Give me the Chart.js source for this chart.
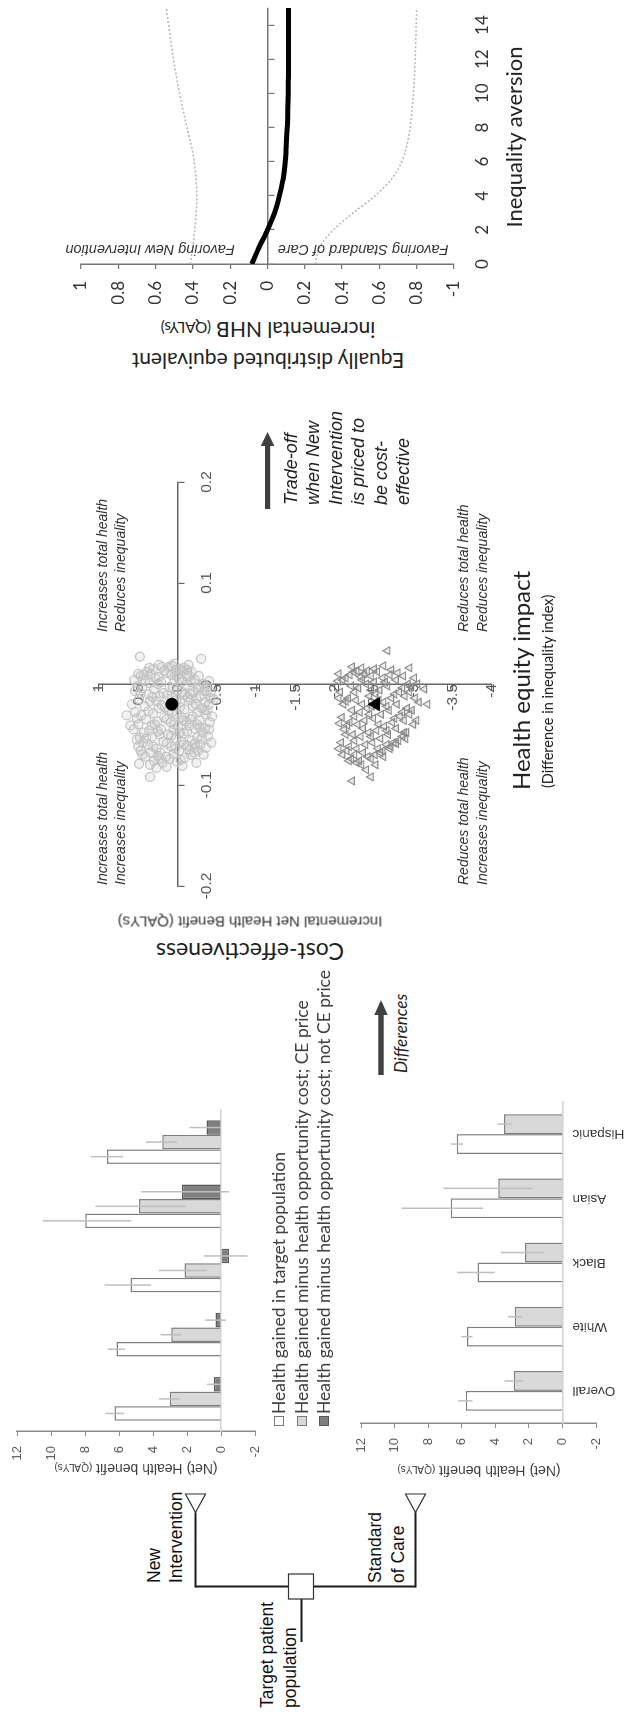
<!DOCTYPE html>
<html><head><meta charset="utf-8">
<script src="https://cdn.jsdelivr.net/npm/chart.js@4.4.1/dist/chart.umd.min.js"></script>
<style>
html,body{margin:0;padding:0;background:#fff;overflow:hidden;width:631px;height:1716px;}
#land{position:absolute;left:0;top:0;width:1716px;height:631px;transform-origin:0 0;transform:translate(0px,1716px) rotate(-90deg);background:#fff;}
#land canvas{position:absolute;}
.t{position:absolute;white-space:nowrap;line-height:1;}
.h{transform:translateY(-50%);}
.c{transform:translate(-50%,-50%);}
.r{transform:translate(-50%,-50%) rotate(-90deg);}
.arial{font-family:"Liberation Sans",Arial,sans-serif;}
.lato{font-family:Lato,sans-serif;}
.it{font-style:italic;}
.sc{font-size:0.72em;}
.sw{position:absolute;width:8px;height:8px;border:1px solid #7a7a7a;}
</style></head>
<body>
<div id="land">
<svg width="1716" height="631" style="position:absolute;left:0;top:0">
  <g stroke="#1a1a1a" stroke-width="2" fill="none">
    <line x1="74" y1="301.5" x2="117" y2="301.5"/>
    <line x1="129.5" y1="195.5" x2="129.5" y2="415.5"/>
    <line x1="128.5" y1="195.5" x2="203.5" y2="195.5"/>
    <line x1="128.5" y1="415.5" x2="203.5" y2="415.5"/>
  </g>
  <rect x="117" y="288.5" width="25" height="25" fill="#fff" stroke="#333" stroke-width="1.2"/>
  <polygon points="203.5,195.5 222,185.5 222,205.5" fill="#fff" stroke="#333" stroke-width="1.2"/>
  <polygon points="203.5,415.5 222,405.5 222,425.5" fill="#fff" stroke="#333" stroke-width="1.2"/>
  <rect x="641" y="378.3" width="62" height="5.4" fill="#404040"/>
  <polygon points="716,381 701,374.3 701,387.7" fill="#404040"/>
  <rect x="1207" y="265" width="64" height="5.2" fill="#404040"/>
  <polygon points="1284,267.6 1270,260.8 1270,274.4" fill="#404040"/>
</svg>
<canvas id="c1"></canvas>
<canvas id="c2"></canvas>
<canvas id="c3"></canvas>
<canvas id="c4"></canvas>

<div class="t h arial" style="left:8px;top:268px;font-size:17.5px;color:#111">Target patient</div>
<div class="t h arial" style="left:8px;top:291px;font-size:17.5px;color:#111">population</div>
<div class="t h arial" style="left:133px;top:155px;font-size:17.5px;color:#111">New</div>
<div class="t h arial" style="left:133px;top:177px;font-size:17.5px;color:#111">Intervention</div>
<div class="t h arial" style="left:133px;top:376px;font-size:17.5px;color:#111">Standard</div>
<div class="t h arial" style="left:133px;top:399px;font-size:17.5px;color:#111">of Care</div>

<div class="t r arial" style="left:247px;top:136px;font-size:14px;color:#404040">(Net) Health benefit <span class="sc">(QALYs)</span></div>
<div class="t r arial" style="left:244.5px;top:479px;font-size:14px;color:#404040">(Net) Health benefit <span class="sc">(QALYs)</span></div>

<div class="sw" style="left:289.5px;top:274px;background:#fff"></div>
<div class="sw" style="left:289.5px;top:297px;background:#d9d9d9"></div>
<div class="sw" style="left:289.5px;top:319px;background:#7f7f7f;border-color:#595959"></div>
<div class="t h lato" style="left:302px;top:279px;font-size:17.5px;color:#404040">Health gained in target population</div>
<div class="t h lato" style="left:302px;top:301.7px;font-size:17.5px;color:#404040">Health gained minus health opportunity cost; CE price</div>
<div class="t h lato" style="left:302px;top:323.5px;font-size:17.5px;color:#404040">Health gained minus health opportunity cost; not CE price</div>

<div class="t h lato it" style="left:643px;top:400px;font-size:17px;color:#222">Differences</div>

<div class="t r lato" style="left:764.5px;top:250px;font-size:23px;color:#222">Cost-effectiveness</div>
<div class="t r arial" style="left:793.5px;top:250px;font-size:15px;color:#333">Incremental Net Health Benefit (QALYs)</div>

<div class="t arial it" style="left:831px;top:93px;font-size:14px;line-height:18px;color:#333">Increases total health<br>Increases inequality</div>
<div class="t arial it" style="left:1084px;top:93px;font-size:14px;line-height:18px;color:#333">Increases total health<br>Reduces inequality</div>
<div class="t arial it" style="left:831px;top:454px;font-size:14px;line-height:19px;color:#333">Reduces total health<br>Increases inequality</div>
<div class="t arial it" style="left:1084px;top:454px;font-size:14px;line-height:19px;color:#333">Reduces total health<br>Reduces inequality</div>

<div class="t h lato" style="left:926px;top:521px;font-size:24px;color:#222">Health equity impact</div>
<div class="t h lato" style="left:928px;top:547.5px;font-size:14.5px;color:#222">(Difference in inequality index)</div>

<div class="t arial it" style="left:1211px;top:280px;font-size:18px;line-height:22.4px;color:#222">Trade-off<br>when New<br>Intervention<br>is priced to<br>be cost-<br>effective</div>

<div class="t r lato" style="left:1354.5px;top:268px;font-size:21px;color:#222">Equally distributed equivalent</div>
<div class="t r lato" style="left:1386px;top:268px;font-size:21px;color:#222">incremental NHB <span class="sc">(QALYs)</span></div>
<div class="t r arial it" style="left:1466px;top:150px;font-size:14.5px;color:#333">Favoring New Intervention</div>
<div class="t r arial it" style="left:1466px;top:363px;font-size:14.5px;color:#333">Favoring Standard of Care</div>
<div class="t c lato" style="left:1579px;top:514px;font-size:22px;color:#222">Inequality aversion</div>
</div>

<script>
// ---------------- DATA ----------------
const groups = ["Overall", "White", "Black", "Asian", "Hispanic"];

// New Intervention (top bar chart)
const niGained     = [6.26, 6.14, 5.33, 7.98, 6.71];
const niGainedLo   = [5.70, 5.65, 4.12, 5.28, 5.76];
const niGainedHi   = [6.80, 6.67, 6.85, 10.47, 7.65];
const niCE         = [3.02, 2.92, 2.14, 4.82, 3.45];
const niCELo       = [2.40, 2.34, 0.86, 2.06, 2.59];
const niCEHi       = [3.65, 3.55, 3.65, 7.39, 4.43];
const niNotCE      = [0.43, 0.32, -0.47, 2.29, 0.86];
const niNotCELo    = [0.03, -0.29, -1.56, -0.47, 0.00];
const niNotCEHi    = [0.82, 0.92, 1.02, 4.69, 1.85];

// Standard of Care (bottom bar chart)
const socGained    = [5.76, 5.68, 5.06, 6.65, 6.29];
const socGainedLo  = [5.36, 5.36, 4.03, 4.73, 5.92];
const socGainedHi  = [6.21, 6.01, 6.27, 9.58, 6.65];
const socCE        = [2.90, 2.84, 2.23, 3.83, 3.48];
const socCELo      = [2.34, 2.40, 1.11, 1.79, 3.00];
const socCEHi      = [3.45, 3.24, 3.67, 7.10, 3.87];

// Equity impact plane: [difference in inequality index, incremental NHB]
const meanCEPrice    = [[-0.020, 0.073]];
const meanNotCEPrice = [[-0.020, -2.52]];
const psaCEPrice = [
  [-0.055,0.52],[-0.040,0.50],[-0.028,0.54],[-0.015,0.49],[-0.002,0.51],[0.008,0.47],[-0.066,0.47],
  [-0.072,0.41],[-0.060,0.38],[-0.048,0.43],[-0.035,0.40],[-0.022,0.42],[-0.010,0.37],[0.003,0.41],[0.012,0.39],
  [-0.076,0.30],[-0.064,0.27],[-0.052,0.32],[-0.040,0.29],[-0.029,0.31],[-0.017,0.27],[-0.005,0.30],[0.006,0.28],[0.015,0.31],
  [-0.078,0.19],[-0.068,0.22],[-0.057,0.18],[-0.045,0.21],[-0.033,0.17],[-0.021,0.20],[-0.009,0.18],[0.002,0.21],[0.013,0.17],
  [-0.074,0.10],[-0.062,0.08],[-0.050,0.12],[-0.038,0.09],[-0.026,0.11],[-0.014,0.07],[-0.003,0.10],[0.009,0.08],[0.017,0.11],
  [-0.077,0.01],[-0.066,-0.02],[-0.054,0.02],[-0.042,-0.01],[-0.030,0.01],[-0.018,-0.03],[-0.006,0.00],[0.005,-0.02],[0.014,0.02],
  [-0.073,-0.09],[-0.061,-0.12],[-0.049,-0.08],[-0.037,-0.11],[-0.025,-0.09],[-0.013,-0.13],[-0.001,-0.10],[0.010,-0.12],[0.016,-0.08],
  [-0.068,-0.21],[-0.056,-0.18],[-0.044,-0.22],[-0.032,-0.19],[-0.020,-0.23],[-0.008,-0.20],[0.004,-0.22],[0.012,-0.18],
  [-0.060,-0.29],[-0.048,-0.32],[-0.036,-0.28],[-0.024,-0.31],[-0.012,-0.29],[0.000,-0.33],[-0.070,-0.33],
  [-0.052,-0.39],[-0.038,-0.41],[-0.026,-0.38],[-0.014,-0.42],[-0.003,-0.37],
  [-0.070,0.45],[-0.058,0.44],[-0.046,0.36],[-0.031,0.46],[-0.017,0.35],[-0.004,0.45],[0.010,0.34],
  [-0.071,0.25],[-0.059,0.14],[-0.047,0.25],[-0.035,0.14],[-0.024,0.24],[-0.011,0.13],[0.000,0.25],[0.011,0.14],
  [-0.069,0.05],[-0.057,-0.05],[-0.045,0.05],[-0.033,-0.05],[-0.020,0.04],[-0.008,-0.06],[0.004,0.04],[0.013,-0.05],
  [-0.065,-0.15],[-0.053,-0.25],[-0.041,-0.15],[-0.028,-0.25],[-0.016,-0.16],[-0.004,-0.26],[0.008,-0.15],
  [-0.063,-0.36],[-0.044,-0.35],[-0.030,-0.36],[-0.018,-0.35],[-0.007,-0.34],
  [-0.080,0.35],[-0.082,0.14],[-0.081,-0.06],[-0.078,-0.24],[0.019,0.24],[0.020,0.04],[0.019,-0.14],[0.010,0.50],[-0.045,0.56],[-0.020,0.58],
  [0.027,0.48],[0.025,-0.30],[-0.031,0.65],[-0.041,0.60],[-0.079,0.49],[-0.083,0.27],[-0.092,0.35],[-0.015,-0.46],
  [-0.043,-0.28],[-0.063,-0.22],[-0.053,0.48],[-0.007,-0.37],[0.009,0.43],[-0.007,0.54],
  [-0.062,0.50],[-0.034,0.52],[-0.009,0.47],[0.004,0.55],
  [-0.068,0.34],[-0.054,0.40],[-0.041,0.33],[-0.027,0.37],[-0.013,0.32],[0.001,0.36],[0.016,0.36],
  [-0.074,0.23],[-0.062,0.31],[-0.050,0.23],[-0.037,0.26],[-0.023,0.16],[-0.012,0.23],[0.007,0.24],[0.017,0.20],
  [-0.072,0.15],[-0.064,0.03],[-0.051,0.08],[-0.040,0.04],[-0.028,0.07],[-0.016,0.02],[-0.004,0.06],[0.008,0.01],[0.018,0.07],
  [-0.075,-0.04],[-0.060,-0.08],[-0.048,-0.03],[-0.036,-0.07],[-0.023,-0.03],[-0.011,-0.09],[0.002,-0.05],[0.015,-0.03],
  [-0.070,-0.17],[-0.059,-0.22],[-0.047,-0.12],[-0.035,-0.16],[-0.022,-0.19],[-0.010,-0.16],[0.002,-0.17],[0.014,-0.12],
  [-0.066,-0.26],[-0.054,-0.31],[-0.040,-0.25],[-0.026,-0.34],[-0.014,-0.24],[-0.002,-0.29],[0.008,-0.27],
  [-0.058,-0.43],[-0.045,-0.40],[-0.032,-0.44],[-0.020,-0.40],[-0.008,-0.42],[0.003,-0.40]
];
const psaNotCEPrice = [
  [-0.070,-2.10],[-0.058,-2.08],[-0.045,-2.12],[-0.033,-2.09],[-0.020,-2.11],[-0.008,-2.07],[0.004,-2.10],[0.010,-2.05],
  [-0.074,-2.21],[-0.062,-2.18],[-0.050,-2.23],[-0.038,-2.19],[-0.026,-2.22],[-0.014,-2.17],[-0.002,-2.21],[0.009,-2.19],
  [-0.076,-2.31],[-0.064,-2.28],[-0.052,-2.33],[-0.040,-2.29],[-0.028,-2.32],[-0.016,-2.27],[-0.004,-2.30],[0.007,-2.33],[0.013,-2.28],
  [-0.072,-2.42],[-0.060,-2.39],[-0.048,-2.43],[-0.036,-2.38],[-0.024,-2.41],[-0.012,-2.44],[0.000,-2.40],[0.010,-2.37],
  [-0.070,-2.51],[-0.058,-2.48],[-0.046,-2.53],[-0.034,-2.49],[-0.022,-2.47],[-0.010,-2.52],[0.002,-2.50],[0.012,-2.54],
  [-0.066,-2.61],[-0.054,-2.58],[-0.042,-2.63],[-0.030,-2.59],[-0.018,-2.62],[-0.006,-2.57],[0.006,-2.61],
  [-0.062,-2.71],[-0.050,-2.68],[-0.038,-2.73],[-0.026,-2.69],[-0.014,-2.72],[-0.002,-2.67],[0.009,-2.70],
  [-0.056,-2.81],[-0.044,-2.78],[-0.032,-2.83],[-0.020,-2.79],[-0.008,-2.82],[0.004,-2.78],[0.011,-2.80],
  [-0.048,-2.91],[-0.036,-2.88],[-0.024,-2.92],[-0.012,-2.89],[0.000,-2.93],[0.008,-2.87],
  [-0.040,-3.00],[-0.026,-2.98],[-0.014,-3.02],[-0.003,-2.97],[0.006,-3.01],
  [-0.066,-2.15],[-0.041,-2.16],[-0.017,-2.14],[0.006,-2.14],
  [-0.068,-2.36],[-0.044,-2.36],[-0.020,-2.35],[0.004,-2.35],
  [-0.064,-2.55],[-0.040,-2.56],[-0.016,-2.56],[0.008,-2.46],
  [-0.058,-2.75],[-0.034,-2.76],[-0.010,-2.76],
  [-0.030,-2.95],[-0.008,-2.95],
  [0.033,-2.67],[-0.096,-2.22],[-0.092,-2.46],[-0.078,-2.28],[-0.085,-2.40],[-0.080,-2.34],[-0.020,-3.18],
  [-0.005,-3.14],[0.016,-2.95],[0.018,-2.62],[0.017,-2.22],[0.013,-2.41],[0.003,-2.04],[-0.050,-2.14],
  [-0.048,-2.88],[-0.059,-2.78],[-0.068,-2.58],
  [-0.064,-2.05],[-0.039,-2.06],[-0.014,-2.05],
  [-0.070,-2.25],[-0.056,-2.25],[-0.032,-2.25],[-0.008,-2.25],[0.012,-2.24],
  [-0.074,-2.46],[-0.052,-2.46],[-0.030,-2.44],[-0.006,-2.46],
  [-0.060,-2.66],[-0.046,-2.66],[-0.022,-2.66],[0.002,-2.64],
  [-0.052,-2.86],[-0.028,-2.86],[-0.004,-2.86],
  [-0.036,-3.04],[-0.018,-3.07],[0.000,-3.05],
  [-0.076,-2.18],[-0.080,-2.52],[-0.072,-2.62],[0.015,-2.50],[0.016,-2.34],[0.014,-2.72],[-0.064,-2.70],[-0.054,-2.90]
];

// Equally distributed equivalent incremental NHB by inequality aversion
const aversion = [0, 1, 2, 3, 4, 5, 6, 7, 8, 9, 10, 11, 12, 13, 14, 15];
const edeMean  = [0.084, 0.044, 0.000, -0.038, -0.064, -0.084, -0.095, -0.101, -0.106, -0.109, -0.111, -0.112, -0.113, -0.113, -0.113, -0.113];
const edeUpper = [0.414, 0.400, 0.390, 0.382, 0.379, 0.383, 0.393, 0.410, 0.432, 0.452, 0.472, 0.489, 0.504, 0.518, 0.530, 0.543];
const edeLower = [-0.256, -0.280, -0.354, -0.460, -0.578, -0.667, -0.720, -0.748, -0.765, -0.775, -0.783, -0.788, -0.792, -0.795, -0.797, -0.800];

// ---------------- RENDERING ----------------
Chart.defaults.font.family = '"Liberation Sans", Arial, sans-serif';
Chart.defaults.color = '#404040';
Chart.defaults.animation = false;
Chart.defaults.plugins.legend.display = false;
Chart.defaults.plugins.tooltip.enabled = false;

function placeCanvas(id, area, pad, yW, xH) {
  const cv = document.getElementById(id);
  const w = (area.r - area.l) + pad.l + yW + pad.r;
  const h = (area.b - area.t) + pad.t + xH + pad.b;
  cv.width = w; cv.height = h;
  cv.style.width = w + 'px'; cv.style.height = h + 'px';
  cv.style.left = (area.l - pad.l - yW) + 'px';
  cv.style.top = (area.t - pad.t) + 'px';
  return cv;
}
const fmt = v => String(Number(Number(v).toFixed(3)));

const errPlugin = {
  id: 'errbars',
  afterDatasetsDraw(chart) {
    const ctx = chart.ctx, ys = chart.scales.y;
    chart.data.datasets.forEach((ds, di) => {
      if (!ds.errLo) return;
      const meta = chart.getDatasetMeta(di);
      ctx.save();
      ctx.strokeStyle = '#bfbfbf';
      ctx.lineWidth = 1.5;
      meta.data.forEach((bar, i) => {
        ctx.beginPath();
        ctx.moveTo(bar.x, ys.getPixelForValue(ds.errLo[i]));
        ctx.lineTo(bar.x, ys.getPixelForValue(ds.errHi[i]));
        ctx.stroke();
      });
      ctx.restore();
    });
  }
};

function barOptions(yW, showLabels, catPct) {
  return {
    responsive: false, devicePixelRatio: 1, animation: false,
    layout: { padding: {} },
    datasets: { bar: { categoryPercentage: catPct, barPercentage: 1.0 } },
    scales: {
      y: {
        min: -2, max: 12,
        ticks: { stepSize: 2, padding: 10, font: { size: 13 }, color: '#595959', callback: fmt },
        grid: { display: true, drawOnChartArea: false, drawTicks: true, tickLength: 5, color: '#8c8c8c', lineWidth: 1 },
        border: { display: true, color: '#8c8c8c', width: 1.5 },
        afterFit: s => { s.width = yW; }
      },
      x: {
        position: { y: 0 },
        ticks: { display: showLabels, autoSkip: false, minRotation: 90, maxRotation: 90, padding: 10, font: { size: 13.5 }, color: '#333' },
        grid: { display: false, drawTicks: false },
        border: { display: true, color: '#d0d0d0', width: 1.5 }
      }
    }
  };
}

// Chart 1: New Intervention
{
  const area = { l: 285, t: 17, r: 606, b: 255 }, pad = { l: 8, t: 30, r: 30, b: 30 }, yW = 40;
  const cv = placeCanvas('c1', area, pad, yW, 0);
  const opt = barOptions(yW, false, 0.68);
  opt.layout.padding = { left: pad.l, top: pad.t, right: pad.r, bottom: pad.b };
  new Chart(cv, {
    type: 'bar',
    data: {
      labels: groups,
      datasets: [
        { data: niGained, errLo: niGainedLo, errHi: niGainedHi, backgroundColor: '#ffffff', borderColor: '#7f7f7f', borderWidth: 1.5 },
        { data: niCE, errLo: niCELo, errHi: niCEHi, backgroundColor: '#d9d9d9', borderColor: '#7f7f7f', borderWidth: 1.5 },
        { data: niNotCE, errLo: niNotCELo, errHi: niNotCEHi, backgroundColor: '#7f7f7f', borderColor: '#595959', borderWidth: 1.5 }
      ]
    },
    options: opt,
    plugins: [errPlugin]
  });
}

// Chart 2: Standard of Care
{
  const area = { l: 293, t: 361, r: 614, b: 596 }, pad = { l: 8, t: 30, r: 12, b: 40 }, yW = 40;
  const cv = placeCanvas('c2', area, pad, yW, 0);
  const opt = barOptions(yW, true, 0.62);
  opt.layout.padding = { left: pad.l, top: pad.t, right: pad.r, bottom: pad.b };
  new Chart(cv, {
    type: 'bar',
    data: {
      labels: groups,
      datasets: [
        { data: socGained, errLo: socGainedLo, errHi: socGainedHi, backgroundColor: '#ffffff', borderColor: '#7f7f7f', borderWidth: 1.5 },
        { data: socCE, errLo: socCELo, errHi: socCEHi, backgroundColor: '#d9d9d9', borderColor: '#7f7f7f', borderWidth: 1.5 }
      ]
    },
    options: opt,
    plugins: [errPlugin]
  });
}

// Chart 3: equity impact plane
{
  const area = { l: 830, t: 99, r: 1234, b: 492 }, pad = { l: 32, t: 30, r: 32, b: 30 };
  const cv = placeCanvas('c3', area, pad, 0, 0);
  const toPts = arr => arr.map(p => ({ x: p[0], y: p[1] }));
  new Chart(cv, {
    type: 'scatter',
    data: {
      datasets: [
        { data: toPts(meanCEPrice), pointStyle: 'circle', pointRadius: 6, backgroundColor: '#000', borderColor: '#000', borderWidth: 1 },
        { data: toPts(meanNotCEPrice), pointStyle: 'triangle', pointRadius: 7.5, backgroundColor: '#000', borderColor: '#000', borderWidth: 1 },
        { data: toPts(psaCEPrice), pointStyle: 'circle', pointRadius: 4.5, backgroundColor: 'rgba(190,190,190,0.22)', borderColor: '#c2c2c2', borderWidth: 1.2 },
        { data: toPts(psaNotCEPrice), pointStyle: 'triangle', pointRadius: 4.5, backgroundColor: 'rgba(140,140,140,0.18)', borderColor: '#8a8a8a', borderWidth: 1.1 }
      ]
    },
    options: {
      responsive: false, devicePixelRatio: 1, animation: false,
      layout: { padding: { left: pad.l, top: pad.t, right: pad.r, bottom: pad.b } },
      scales: {
        x: {
          type: 'linear', min: -0.2, max: 0.2, position: { y: 0 },
          ticks: { stepSize: 0.1, padding: 14, font: { size: 15.5 }, color: '#555', callback: fmt },
          grid: { display: true, drawOnChartArea: false, drawTicks: true, tickLength: 6, color: '#666', lineWidth: 1.2 },
          border: { display: true, color: '#666', width: 1.5 }
        },
        y: {
          type: 'linear', min: -4, max: 1, position: { x: 0 },
          ticks: { stepSize: 0.5, padding: 12, font: { size: 15.5 }, color: '#555', callback: fmt },
          grid: { display: true, drawOnChartArea: false, drawTicks: true, tickLength: 6, color: '#666', lineWidth: 1.2 },
          border: { display: true, color: '#666', width: 1.5 }
        }
      }
    }
  });
}

// Chart 4: EDE NHB vs inequality aversion
{
  const area = { l: 1452, t: 81, r: 1708, b: 454 }, pad = { l: 8, t: 30, r: 8, b: 10 }, yW = 40, xH = 50;
  const cv = placeCanvas('c4', area, pad, yW, xH);
  const pts = arr => aversion.map((a, i) => ({ x: a, y: arr[i] }));
  new Chart(cv, {
    type: 'line',
    data: {
      datasets: [
        { data: pts(edeMean), borderColor: '#000', borderWidth: 5, pointRadius: 0, cubicInterpolationMode: 'monotone', borderCapStyle: 'butt' },
        { data: pts(edeUpper), borderColor: '#b5b5b5', borderWidth: 1.5, borderDash: [2, 2], pointRadius: 0, cubicInterpolationMode: 'monotone' },
        { data: pts(edeLower), borderColor: '#b5b5b5', borderWidth: 1.5, borderDash: [2, 2], pointRadius: 0, cubicInterpolationMode: 'monotone' }
      ]
    },
    options: {
      responsive: false, devicePixelRatio: 1, animation: false,
      layout: { padding: { left: pad.l, top: pad.t, right: pad.r, bottom: pad.b } },
      scales: {
        x: {
          type: 'linear', min: 0, max: 15, position: { y: 0 },
          ticks: { display: false, stepSize: 2, includeBounds: false },
          grid: { display: true, drawOnChartArea: false, drawTicks: true, tickLength: 6, color: '#777', lineWidth: 1.2 },
          border: { display: true, color: '#777', width: 1.5 }
        },
        x2: {
          type: 'linear', min: 0, max: 15, position: 'bottom', axis: 'x',
          ticks: { stepSize: 2, includeBounds: false, padding: 0, font: { family: 'Lato', size: 17 }, color: '#333' },
          grid: { display: false, drawTicks: true, tickLength: 18 },
          border: { display: false },
          afterFit: s => { s.height = xH; }
        },
        y: {
          type: 'linear', min: -1, max: 1,
          ticks: { stepSize: 0.2, padding: 12, font: { family: 'Lato', size: 17 }, color: '#333', callback: fmt },
          grid: { display: true, drawOnChartArea: false, drawTicks: true, tickLength: 5, color: '#777', lineWidth: 1.2 },
          border: { display: true, color: '#777', width: 1.5 },
          afterFit: s => { s.width = yW; }
        }
      }
    }
  });
}
</script>
</body></html>
